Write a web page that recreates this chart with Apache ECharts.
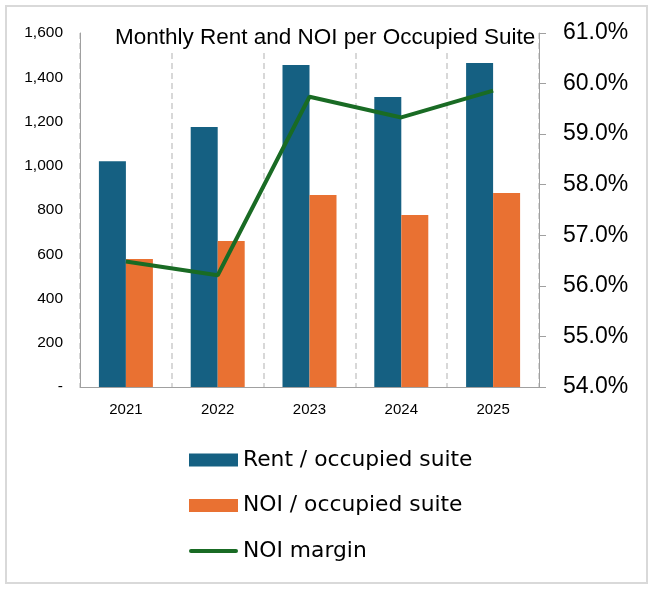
<!DOCTYPE html>
<html>
<head>
<meta charset="utf-8">
<script src="https://cdn.jsdelivr.net/npm/echarts@6/dist/echarts.min.js"></script>
<style>
  html, body { margin: 0; padding: 0; background: #fff; }
  #chart { width: 653px; height: 592px; }
</style>
</head>
<body>
<div id="chart"></div>
<script>
const years = ["2021", "2022", "2023", "2024", "2025"];
const rentPerSuite = [1020, 1175, 1455, 1311, 1464];
const noiPerSuite = [578, 660, 868, 777, 877];
const noiMargin = [56.48, 56.21, 59.74, 59.33, 59.86];

const chart = echarts.init(document.getElementById("chart"));

// legend icon for the margin line: a thick bar with round ends
const lineIcon = "path://M2,0 L47,0 A2,2 0 0 1 47,4 L2,4 A2,2 0 0 1 2,0 Z";

const getOption = () => {
  return {
    animation: false,
    backgroundColor: "#ffffff",
    title: {
      text: "Monthly Rent and NOI per Occupied Suite",
      left: 113,
      top: 25,
      padding: [1, 2],
      backgroundColor: "#ffffff",
      textStyle: {
        fontFamily: "Liberation Sans",
        fontSize: 22.5,
        fontWeight: "normal",
        color: "#000000",
      },
    },
    legend: {
      orient: "vertical",
      left: 189,
      top: 449,
      padding: 0,
      itemWidth: 49,
      itemHeight: 13,
      itemGap: 23.5,
      symbolKeepAspect: true,
      textStyle: {
        fontFamily: "DejaVu Sans",
        fontSize: 21.8,
        lineHeight: 20,
        color: "#000000",
      },
      data: [
        { name: "Rent / occupied suite", icon: "rect" },
        { name: "NOI / occupied suite", icon: "rect" },
        { name: "NOI margin", icon: lineIcon },
      ],
    },
    grid: {
      left: 80,
      right: 114,
      top: 33,
      bottom: 205,
    },
    graphic: [
      {
        type: "rect",
        shape: { x: 6, y: 6, width: 641, height: 577 },
        style: { fill: "none", stroke: "#d9d9d9", lineWidth: 2 },
        silent: true,
      },
    ],
    xAxis: {
      type: "category",
      data: years,
      boundaryGap: true,
      axisLine: { show: true, lineStyle: { color: "#a0a0a0", width: 1 } },
      axisTick: { show: false },
      axisLabel: {
        fontFamily: "Liberation Sans",
        fontSize: 15,
        color: "#000000",
        margin: 15,
      },
      splitLine: {
        show: true,
        lineStyle: { color: "#cccccc", type: [6, 4], width: 1.5 },
      },
    },
    yAxis: [
      {
        type: "value",
        min: 0,
        max: 1600,
        interval: 200,
        axisLine: { show: true, lineStyle: { color: "#a0a0a0", width: 1 } },
        axisTick: { show: false },
        splitLine: { show: false },
        axisLabel: {
          fontFamily: "Liberation Sans",
          fontSize: 15.5,
          color: "#000000",
          margin: 17,
          formatter: (v) => (v === 0 ? "-" : v.toLocaleString("en-US")),
        },
      },
      {
        type: "value",
        min: 54,
        max: 61,
        interval: 1,
        position: "right",
        axisLine: { show: true, lineStyle: { color: "#a0a0a0", width: 1 } },
        axisTick: {
          show: true,
          length: 7,
          lineStyle: { color: "#a0a0a0" },
        },
        splitLine: { show: false },
        axisLabel: {
          fontFamily: "Liberation Sans",
          fontSize: 23,
          color: "#000000",
          margin: 24,
          formatter: (v) => v.toFixed(1) + "%",
        },
      },
    ],
    series: [
      {
        name: "Rent / occupied suite",
        type: "bar",
        data: rentPerSuite,
        barWidth: 27,
        barGap: "0%",
        itemStyle: { color: "#156082" },
      },
      {
        name: "NOI / occupied suite",
        type: "bar",
        data: noiPerSuite,
        barWidth: 27,
        barGap: "0%",
        itemStyle: { color: "#E97132" },
      },
      {
        name: "NOI margin",
        type: "line",
        yAxisIndex: 1,
        data: noiMargin,
        symbol: "none",
        lineStyle: { color: "#196B24", width: 4 },
        itemStyle: { color: "#196B24" },
        z: 5,
      },
    ],
  };
};

chart.setOption(getOption());
</script>
</body>
</html>
